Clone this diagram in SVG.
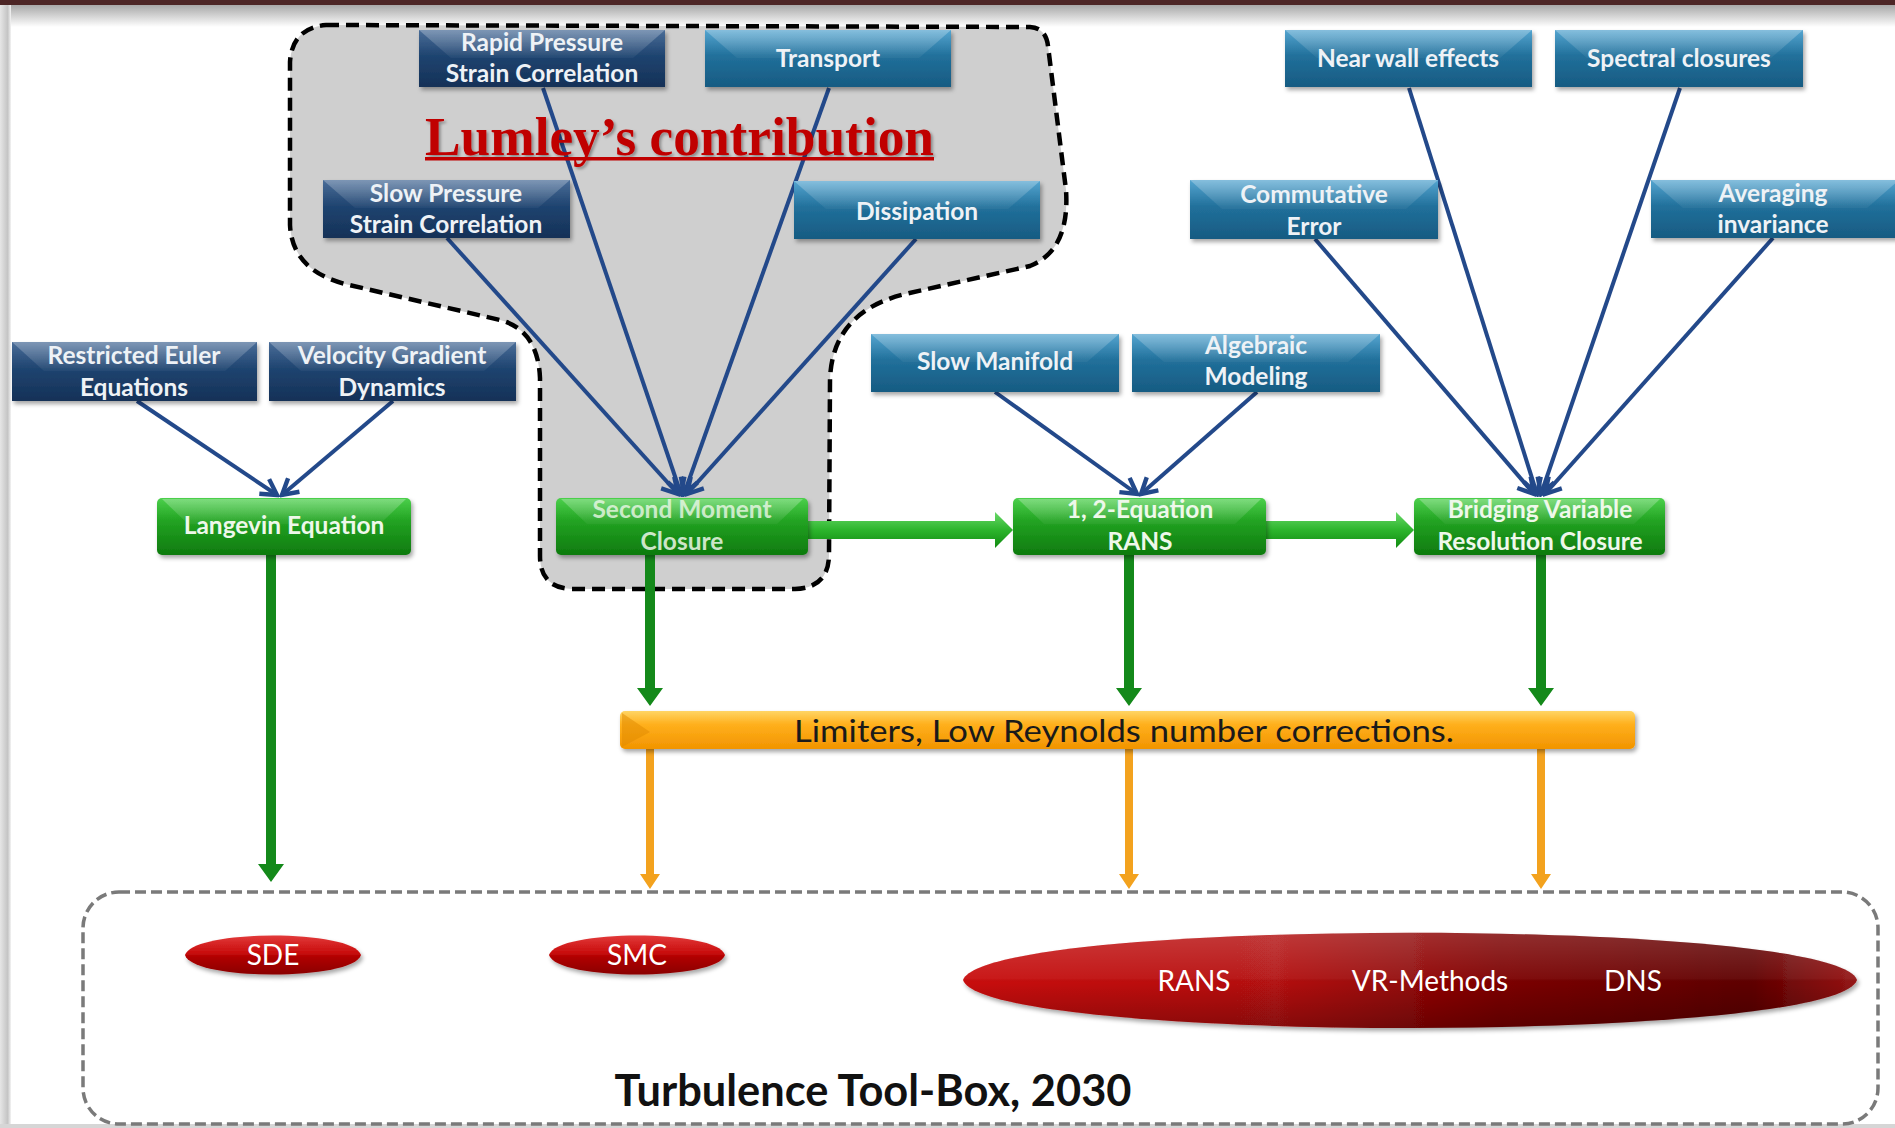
<svg xmlns="http://www.w3.org/2000/svg" width="1895" height="1128" viewBox="0 0 1895 1128">
<defs>
<linearGradient id="gNavy" x1="0" y1="0" x2="0" y2="1"><stop offset="0" stop-color="#4a6d98"/><stop offset="0.45" stop-color="#1f4470"/><stop offset="1" stop-color="#153157"/></linearGradient>
<linearGradient id="gSteel" x1="0" y1="0" x2="0" y2="1"><stop offset="0" stop-color="#55a5d0"/><stop offset="0.45" stop-color="#21709b"/><stop offset="1" stop-color="#175b82"/></linearGradient>
<linearGradient id="gGreen" x1="0" y1="0" x2="0" y2="1"><stop offset="0" stop-color="#4cd04c"/><stop offset="0.4" stop-color="#22a322"/><stop offset="1" stop-color="#0e7a0e"/></linearGradient>
<linearGradient id="gYellow" x1="0" y1="0" x2="0" y2="1"><stop offset="0" stop-color="#ffd565"/><stop offset="0.35" stop-color="#ffb01c"/><stop offset="1" stop-color="#f29400"/></linearGradient>
<linearGradient id="gShaft" x1="0" y1="0" x2="0" y2="1"><stop offset="0" stop-color="#6ad86a"/><stop offset="0.5" stop-color="#2cb52c"/><stop offset="1" stop-color="#118a11"/></linearGradient>
<linearGradient id="gHi" x1="0" y1="0" x2="0" y2="1"><stop offset="0" stop-color="#ffffff" stop-opacity="0.28"/><stop offset="1" stop-color="#ffffff" stop-opacity="0.04"/></linearGradient>
<linearGradient id="gRed" x1="0" y1="0" x2="0" y2="1"><stop offset="0" stop-color="#e23a3a"/><stop offset="0.45" stop-color="#c80c0c"/><stop offset="0.55" stop-color="#b00000"/><stop offset="1" stop-color="#8a0000"/></linearGradient>
<linearGradient id="gRedH" x1="0" y1="0" x2="1" y2="0"><stop offset="0" stop-color="#c80a0a"/><stop offset="0.35" stop-color="#b31212"/><stop offset="0.6" stop-color="#7c0000"/><stop offset="0.88" stop-color="#5e0000"/><stop offset="1" stop-color="#951414"/></linearGradient>
<linearGradient id="gRedV" x1="0" y1="0" x2="0" y2="1"><stop offset="0" stop-color="#ffffff" stop-opacity="0.18"/><stop offset="0.48" stop-color="#ffffff" stop-opacity="0.05"/><stop offset="0.52" stop-color="#000000" stop-opacity="0"/><stop offset="1" stop-color="#000000" stop-opacity="0.25"/></linearGradient>
<linearGradient id="gTop" x1="0" y1="0" x2="0" y2="1"><stop offset="0" stop-color="#a8a8a8"/><stop offset="1" stop-color="#ffffff"/></linearGradient>
<linearGradient id="gLeft" x1="0" y1="0" x2="1" y2="0"><stop offset="0" stop-color="#e6e6e6"/><stop offset="0.7" stop-color="#c4c4c4"/><stop offset="1" stop-color="#f4f4f4"/></linearGradient>
<filter id="sh" x="-10%" y="-20%" width="120%" height="150%"><feDropShadow dx="2" dy="3" stdDeviation="2" flood-color="#000" flood-opacity="0.35"/></filter>
<filter id="tsh" x="-5%" y="-20%" width="110%" height="140%"><feDropShadow dx="2" dy="2" stdDeviation="1.5" flood-color="#000" flood-opacity="0.35"/></filter>
<marker id="ah" viewBox="0 0 20 20" refX="17" refY="10" markerWidth="22" markerHeight="22" markerUnits="userSpaceOnUse" orient="auto"><path d="M3,2 L17,10 L3,18" fill="none" stroke="#23498a" stroke-width="4" stroke-linejoin="miter"/></marker>
<style>
.lbl{font-family:Lato,"Open Sans","Liberation Sans",sans-serif;font-weight:bold;font-size:24.5px;fill:#eef2f6;text-anchor:middle}
.glbl{font-family:Lato,"Open Sans","Liberation Sans",sans-serif;font-weight:bold;font-size:24.5px;fill:#eef8ea;text-anchor:middle}
.rlbl{font-family:Lato,"Open Sans","Liberation Sans",sans-serif;font-size:28px;fill:#ffffff;text-anchor:middle}
.navy{fill:url(#gNavy);filter:url(#sh)}
.steel{fill:url(#gSteel);filter:url(#sh)}
.green{fill:url(#gGreen);filter:url(#sh)}
.hi{fill:url(#gHi)}
.blue{stroke:#23498a;stroke-width:4;fill:none;marker-end:url(#ah)}
.gdown{fill:#14891a}
.odown{fill:#f3a21e}
</style>
</defs>

<!-- frame -->
<rect x="0" y="0" width="1895" height="1128" fill="#ffffff"/>
<rect x="0" y="5" width="1895" height="22" fill="url(#gTop)"/>
<rect x="0" y="0" width="1895" height="5" fill="#4d2626"/>
<rect x="0" y="5" width="11" height="1123" fill="url(#gLeft)"/>
<rect x="0" y="1124" width="1895" height="4" fill="#d6d6d6"/>

<!-- Lumley region -->
<g id="lumley-region">
<path d="M 326 25 L 1030 27 Q 1046 28 1048 46 L 1066 190 Q 1070 250 1030 266 L 905 294 Q 832 312 830 380 L 829 556 Q 828 588 795 589 L 572 589 Q 540 588 540 556 L 540 378 Q 538 330 500 320 L 345 284 Q 292 270 290 225 L 290 62 Q 292 28 326 25 Z" fill="#cfcfcf" stroke="#000" stroke-width="4.5" stroke-dasharray="13 7"/>
</g>

<!-- bottom tool-box -->
<g id="toolbox">
<rect x="83" y="892" width="1795" height="232" rx="36" ry="36" fill="none" stroke="#7a7a7a" stroke-width="3.5" stroke-dasharray="11 5"/>
<text x="873" y="1106" font-family="Lato,'Open Sans','Liberation Sans',sans-serif" font-weight="bold" font-size="43" fill="#111" text-anchor="middle" textLength="517" lengthAdjust="spacingAndGlyphs">Turbulence Tool-Box, 2030</text>
</g>

<!-- connectors -->
<g id="connectors">
<line class="blue" x1="137" y1="401" x2="277" y2="495"/>
<line class="blue" x1="393" y1="401" x2="282" y2="495"/>
<line class="blue" x1="447" y1="238" x2="678" y2="494"/>
<line class="blue" x1="543" y1="88" x2="681" y2="494"/>
<line class="blue" x1="829" y1="88" x2="684" y2="494"/>
<line class="blue" x1="916" y1="239" x2="687" y2="494"/>
<line class="blue" x1="995" y1="392" x2="1137" y2="494"/>
<line class="blue" x1="1257" y1="392" x2="1141" y2="494"/>
<line class="blue" x1="1315" y1="239" x2="1534" y2="494"/>
<line class="blue" x1="1409" y1="88" x2="1537" y2="494"/>
<line class="blue" x1="1680" y1="88" x2="1541" y2="494"/>
<line class="blue" x1="1773" y1="238" x2="1545" y2="494"/>
<!-- horizontal block arrows -->
<path d="M808 521 H995 V512 L1013 530 L995 548 V539 H808 Z" fill="url(#gShaft)"/>
<path d="M1266 521 H1396 V512 L1414 530 L1396 548 V539 H1266 Z" fill="url(#gShaft)"/>
<!-- green down arrows -->
<path class="gdown" d="M266 555 H276 V864 H284 L271 882 L258 864 H266 Z"/>
<path class="gdown" d="M645 555 H655 V688 H663 L650 706 L637 688 H645 Z"/>
<path class="gdown" d="M1124 555 H1134 V688 H1142 L1129 706 L1116 688 H1124 Z"/>
<path class="gdown" d="M1536 555 H1546 V688 H1554 L1541 706 L1528 688 H1536 Z"/>
<!-- orange down arrows -->
<path class="odown" d="M646 749 H654 V874 H660 L650 889 L640 874 H646 Z"/>
<path class="odown" d="M1125 749 H1133 V874 H1139 L1129 889 L1119 874 H1125 Z"/>
<path class="odown" d="M1537 749 H1545 V874 H1551 L1541 889 L1531 874 H1537 Z"/>
</g>

<!-- title -->
<g id="lumley-title">
<text x="425" y="155" font-family="'Liberation Serif','Times New Roman',serif" font-weight="bold" font-size="54" fill="#c00000" filter="url(#tsh)" textLength="509" lengthAdjust="spacingAndGlyphs">Lumley’s contribution</text>
<rect x="425" y="157" width="509" height="3.5" fill="#c00000"/>
</g>

<!-- blue nodes -->
<g id="rapid-pressure"><rect class="navy" x="419" y="30" width="246" height="57"/><polygon class="hi" points="419,30 665,30 633,58 451,58"/>
<text class="lbl" x="542" y="51">Rapid Pressure</text><text class="lbl" x="542" y="82">Strain Correlation</text></g>
<g id="transport"><rect class="steel" x="705" y="30" width="246" height="57"/><polygon class="hi" points="705,30 951,30 919,58 737,58"/>
<text class="lbl" x="828" y="67">Transport</text></g>
<g id="slow-pressure"><rect class="navy" x="323" y="180" width="247" height="58"/><polygon class="hi" points="323,180 570,180 538,208 355,208"/>
<text class="lbl" x="446" y="202">Slow Pressure</text><text class="lbl" x="446" y="233">Strain Correlation</text></g>
<g id="dissipation"><rect class="steel" x="794" y="181" width="246" height="58"/><polygon class="hi" points="794,181 1040,181 1008,209 826,209"/>
<text class="lbl" x="917" y="220">Dissipation</text></g>
<g id="restricted-euler"><rect class="navy" x="12" y="342" width="245" height="59"/><polygon class="hi" points="12,342 257,342 225,371 44,371"/>
<text class="lbl" x="134" y="364">Restricted Euler</text><text class="lbl" x="134" y="396">Equations</text></g>
<g id="velocity-gradient"><rect class="navy" x="269" y="342" width="247" height="59"/><polygon class="hi" points="269,342 516,342 484,371 301,371"/>
<text class="lbl" x="392" y="364">Velocity Gradient</text><text class="lbl" x="392" y="396">Dynamics</text></g>
<g id="near-wall"><rect class="steel" x="1285" y="30" width="247" height="57"/><polygon class="hi" points="1285,30 1532,30 1500,58 1317,58"/>
<text class="lbl" x="1408" y="67">Near wall effects</text></g>
<g id="spectral"><rect class="steel" x="1555" y="30" width="248" height="57"/><polygon class="hi" points="1555,30 1803,30 1771,58 1587,58"/>
<text class="lbl" x="1679" y="67">Spectral closures</text></g>
<g id="commutative"><rect class="steel" x="1190" y="180" width="248" height="59"/><polygon class="hi" points="1190,180 1438,180 1406,209 1222,209"/>
<text class="lbl" x="1314" y="203">Commutative</text><text class="lbl" x="1314" y="235">Error</text></g>
<g id="averaging"><rect class="steel" x="1651" y="180" width="248" height="58"/><polygon class="hi" points="1651,180 1899,180 1867,208 1683,208"/>
<text class="lbl" x="1773" y="202">Averaging</text><text class="lbl" x="1773" y="233">invariance</text></g>
<g id="slow-manifold"><rect class="steel" x="871" y="334" width="248" height="58"/><polygon class="hi" points="871,334 1119,334 1087,362 903,362"/>
<text class="lbl" x="995" y="370">Slow Manifold</text></g>
<g id="algebraic"><rect class="steel" x="1132" y="334" width="248" height="58"/><polygon class="hi" points="1132,334 1380,334 1348,362 1164,362"/>
<text class="lbl" x="1256" y="354">Algebraic</text><text class="lbl" x="1256" y="385">Modeling</text></g>

<!-- green nodes -->
<g id="langevin"><rect class="green" x="157" y="498" width="254" height="57" rx="5"/><polygon class="hi" points="162,499 406,499 380,524 188,524"/>
<text class="glbl" x="284" y="534">Langevin Equation</text></g>
<g id="second-moment"><rect class="green" x="556" y="498" width="252" height="57" rx="5"/><polygon class="hi" points="561,499 803,499 777,524 587,524"/>
<text class="glbl" x="682" y="518" fill-opacity="0.8">Second Moment</text><text class="glbl" x="682" y="550" fill-opacity="0.85">Closure</text></g>
<g id="rans-eq"><rect class="green" x="1013" y="498" width="253" height="57" rx="5"/><polygon class="hi" points="1018,499 1261,499 1235,524 1044,524"/>
<text class="glbl" x="1140" y="518">1, 2-Equation</text><text class="glbl" x="1140" y="550">RANS</text></g>
<g id="bridging"><rect class="green" x="1414" y="498" width="251" height="57" rx="5"/><polygon class="hi" points="1419,499 1660,499 1634,524 1445,524"/>
<text class="glbl" x="1540" y="518">Bridging Variable</text><text class="glbl" x="1540" y="550">Resolution Closure</text></g>

<!-- limiters bar -->
<g id="limiters"><rect x="620" y="711" width="1015" height="38" rx="5" fill="url(#gYellow)" filter="url(#sh)"/><polygon points="622,713 650,732 622,747" fill="#e08a00" opacity="0.5"/>
<text x="1124" y="742" font-family="Lato,'Open Sans','Liberation Sans',sans-serif" font-size="30" fill="#1a1a1a" text-anchor="middle" textLength="660" lengthAdjust="spacingAndGlyphs">Limiters, Low Reynolds number corrections.</text></g>

<!-- result ellipses -->
<g id="sde"><path d="M185 955 C193 929 353 929 361 955 C353 981 193 981 185 955 Z" fill="url(#gRed)" filter="url(#sh)"/><text class="rlbl" x="273" y="965">SDE</text></g>
<g id="smc"><path d="M549 955 C557 929 717 929 725 955 C717 981 557 981 549 955 Z" fill="url(#gRed)" filter="url(#sh)"/><text class="rlbl" x="637" y="965">SMC</text></g>
<g id="rans-vr-dns"><path d="M963 980 C985 917 1835 917 1857 980 C1835 1044 985 1044 963 980 Z" fill="url(#gRedH)" filter="url(#sh)"/><path d="M963 980 C985 917 1835 917 1857 980 C1835 1044 985 1044 963 980 Z" fill="url(#gRedV)"/>
<text class="rlbl" x="1194" y="991">RANS</text><text class="rlbl" x="1430" y="991">VR-Methods</text><text class="rlbl" x="1633" y="991">DNS</text></g>
</svg>
